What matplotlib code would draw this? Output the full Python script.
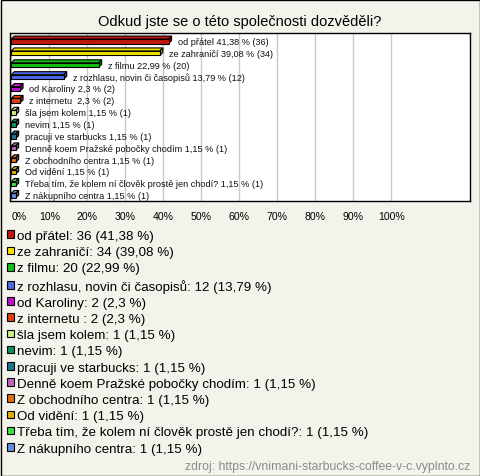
import numpy as np
import matplotlib
matplotlib.use('Agg')
import matplotlib.pyplot as plt
from matplotlib.patches import Polygon, Rectangle, Patch
from matplotlib.colors import to_rgb

plt.rcParams['font.family'] = ['Liberation Sans', 'DejaVu Sans']

# data
title = 'Odkud jste se o této společnosti dozvěděli?'
labels = ['od přátel', 'ze zahraničí', 'z filmu', 'z rozhlasu, novin či časopisů',
          'od Karoliny', 'z internetu ', 'šla jsem kolem', 'nevim',
          'pracuji ve starbucks', 'Denně koem Pražské pobočky chodím',
          'Z obchodního centra', 'Od vidění',
          'Třeba tím, že kolem ní člověk prostě jen chodí?', 'Z nákupního centra']
counts = [36, 34, 20, 12, 2, 2, 1, 1, 1, 1, 1, 1, 1, 1]
percents = [41.38, 39.08, 22.99, 13.79, 2.3, 2.3, 1.15, 1.15, 1.15, 1.15, 1.15, 1.15, 1.15, 1.15]
colors = ['#c0180c', '#f5e000', '#14c014', '#4a6ae8', '#c010d0', '#e04010',
          '#c8f080', '#109060', '#1a7890', '#c060c0', '#e07010', '#e0b000',
          '#40e040', '#6090e0']
xticks = [0, 10, 20, 30, 40, 50, 60, 70, 80, 90, 100]
source = 'zdroj: https://vnimani-starbucks-coffee-v-c.vyplnto.cz'

W, H = 480, 477
bg = '#f4f3eb'
fig = plt.figure(figsize=(W / 100, H / 100), dpi=100, facecolor=bg)

# axes box in pixels
ax_l, ax_r, ax_t, ax_b = 10, 470, 34, 202
ax = fig.add_axes([ax_l / W, 1 - ax_b / H, (ax_r - ax_l) / W, (ax_b - ax_t) / H])
ax.set_facecolor('white')
xmin, xmax = -0.34, 120.7
ymin, ymax = 13.45, -0.7
ax.set_xlim(xmin, xmax)
ax.set_ylim(ymin, ymax)

ax.set_xticks(xticks)
ax.set_xticklabels(['%d%%' % t for t in xticks], fontsize=7.6)
ax.get_xticklabels()[0].set_horizontalalignment('left')
ax.tick_params(axis='x', length=0, pad=7)
ax.set_yticks([])
ax.grid(axis='x', color='#c8c8c8', linewidth=1)
ax.set_axisbelow(True)
for s in ax.spines.values():
    s.set_color('black')
    s.set_linewidth(1)

# pixel -> data for the 3d depth
px_x = (ax_r - ax_l) / (xmax - xmin)
px_y = (ax_b - ax_t) / (ymin - ymax)
dx = 3 / px_x
dy = 3 / px_y
h = 4.5 / px_y

y = np.arange(len(labels))
for i, (v, c) in enumerate(zip(percents, colors)):
    top = y[i] - h / 2
    bot = y[i] + h / 2
    dark = tuple(np.array(to_rgb(c)) * 0.65)
    ax.add_patch(Polygon([(0, top), (v, top), (v + dx, top - dy), (dx, top - dy)],
                         closed=True, facecolor=c, edgecolor='black', linewidth=0.8, zorder=3))
    ax.add_patch(Polygon([(v, top), (v, bot), (v + dx, bot - dy), (v + dx, top - dy)],
                         closed=True, facecolor=dark, edgecolor='black', linewidth=0.8, zorder=3))
ax.barh(y, percents, height=h, color=colors, edgecolor='black', linewidth=0.8, zorder=4)

for i in range(len(labels)):
    pct = str(percents[i]).replace('.', ',')
    ax.annotate('%s %s %% (%d)' % (labels[i], pct, counts[i]),
                xy=(percents[i], y[i]), xytext=(6.8, 0), textcoords='offset points',
                ha='left', va='center', fontsize=6.6, color='#111111', zorder=5)

ax.set_title(title, fontsize=10.5, pad=5.5)

# legend
handles = [Patch(facecolor=c, edgecolor='black', linewidth=0.8) for c in colors]
leg_labels = ['%s: %d (%s %%)' % (labels[i], counts[i], str(percents[i]).replace('.', ','))
              for i in range(len(labels))]
fig.legend(handles, leg_labels, loc='upper left', bbox_to_anchor=(7 / W, 1 - 231 / H),
           frameon=False, fontsize=9.6, handlelength=0.52, handleheight=0.52,
           handletextpad=0.22, labelspacing=0.315, borderpad=0, borderaxespad=0)

fig.text(470 / W, 1 - 467 / H, source, ha='right', va='center', fontsize=8.8, color='#8a8a8a')

# outer border
fig.patches.append(Rectangle((0.5 / W, 0.5 / H), 1 - 1 / W, 1 - 1 / H, transform=fig.transFigure,
                             fill=False, edgecolor='black', linewidth=1))

fig.savefig('out.png', dpi=100, facecolor=bg)
